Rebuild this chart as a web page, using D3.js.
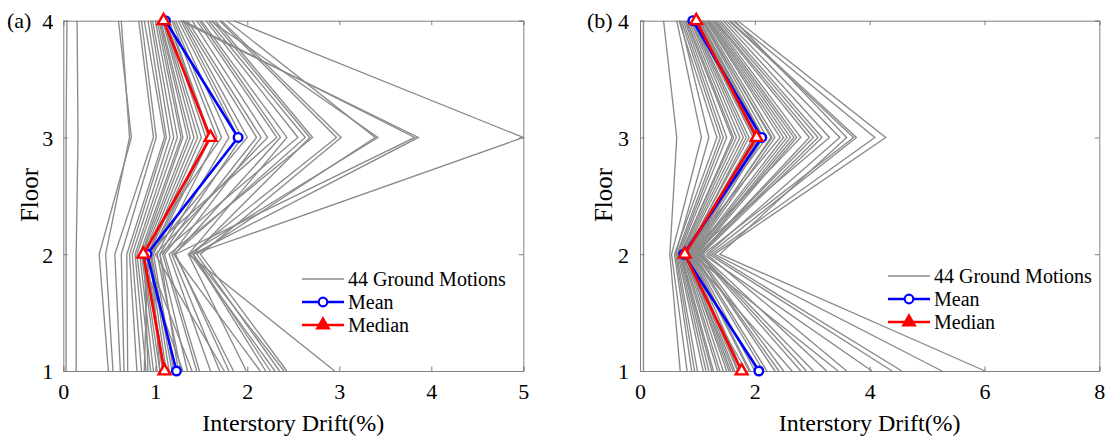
<!DOCTYPE html>
<html>
<head>
<meta charset="utf-8">
<script src="https://cdn.jsdelivr.net/npm/d3@7/dist/d3.min.js"></script>
<style>
  html, body { margin: 0; padding: 0; background: #fff; }
  svg { display: block; font-family: "Liberation Serif", "Times New Roman", Times, serif; }
</style>
</head>
<body>
<svg id="chart" width="1108" height="437"></svg>
<script>
// Floors on the vertical axis
const floors = [1, 2, 3, 4];
const floorTicks = [1, 2, 3, 4];

// (a) peak interstory drift (%) per ground motion, values for floors 1..4
const motionsA = [
  [0.03, 0.03, 0.03, 0.04],
  [0.14, 0.14, 0.16, 0.15],
  [0.49, 0.39, 0.74, 0.60],
  [0.54, 0.46, 0.72, 0.63],
  [0.62, 0.56, 0.98, 0.82],
  [0.66, 0.63, 1.01, 0.85],
  [0.70, 0.69, 1.10, 0.88],
  [0.80, 0.72, 1.12, 0.92],
  [0.85, 0.75, 1.16, 0.95],
  [0.90, 0.78, 1.20, 0.97],
  [0.95, 0.80, 1.24, 1.00],
  [0.98, 0.83, 1.28, 1.02],
  [1.02, 0.85, 1.30, 1.04],
  [1.05, 0.86, 1.35, 1.05],
  [1.08, 0.88, 1.38, 1.06],
  [1.10, 0.90, 1.42, 1.08],
  [0.88, 0.92, 1.46, 1.09],
  [1.12, 0.93, 1.50, 1.10],
  [1.15, 0.95, 1.55, 1.12],
  [1.18, 0.96, 1.58, 1.14],
  [1.20, 0.98, 1.60, 1.15],
  [1.28, 1.02, 1.67, 1.18],
  [1.30, 0.84, 1.72, 1.20],
  [1.35, 1.05, 1.80, 1.22],
  [1.40, 0.90, 1.90, 1.25],
  [1.45, 1.08, 1.94, 1.28],
  [1.05, 0.95, 2.00, 1.30],
  [1.48, 1.10, 2.10, 1.32],
  [1.70, 1.18, 2.15, 1.35],
  [1.75, 1.00, 2.22, 1.40],
  [0.92, 0.88, 2.32, 1.45],
  [1.85, 1.21, 2.36, 1.48],
  [1.99, 1.36, 2.43, 1.50],
  [1.25, 1.05, 2.55, 1.55],
  [2.14, 1.20, 2.63, 1.58],
  [2.20, 1.41, 2.68, 1.62],
  [1.60, 1.15, 2.71, 1.65],
  [2.30, 1.38, 2.97, 1.70],
  [2.43, 1.49, 3.02, 1.72],
  [2.35, 1.45, 3.39, 1.78],
  [2.95, 1.36, 3.42, 1.60],
  [1.80, 1.22, 3.82, 1.30],
  [2.25, 1.41, 3.86, 1.27],
  [2.40, 1.41, 5.00, 1.85]
];
const meanA = [1.23, 0.91, 1.90, 1.11];
const medianA = [1.10, 0.87, 1.60, 1.09];

// (b) peak interstory drift (%) per ground motion, values for floors 1..4
const motionsB = [
  [0.06, 0.06, 0.06, 0.06],
  [0.70, 0.52, 0.64, 0.41],
  [0.82, 0.55, 1.07, 0.64],
  [0.90, 0.60, 1.34, 0.68],
  [0.95, 0.62, 1.20, 0.70],
  [1.00, 0.64, 1.40, 0.72],
  [1.10, 0.66, 1.45, 0.75],
  [1.15, 0.68, 1.51, 0.78],
  [1.20, 0.70, 1.63, 0.82],
  [1.25, 0.71, 1.60, 0.80],
  [1.28, 0.72, 1.68, 0.85],
  [1.35, 0.74, 1.74, 0.88],
  [1.39, 0.76, 1.80, 0.90],
  [1.45, 0.78, 1.90, 0.93],
  [1.51, 0.80, 1.97, 0.95],
  [1.55, 0.79, 2.00, 0.96],
  [1.58, 0.82, 2.02, 0.98],
  [1.62, 0.81, 1.85, 0.92],
  [1.65, 0.84, 2.06, 1.00],
  [1.70, 0.83, 2.12, 1.04],
  [1.72, 0.86, 2.09, 1.02],
  [1.78, 0.88, 2.15, 1.05],
  [1.85, 0.70, 2.21, 1.08],
  [1.90, 0.87, 2.30, 1.08],
  [1.92, 0.90, 2.28, 1.10],
  [2.00, 0.92, 2.35, 1.12],
  [2.09, 0.76, 2.44, 1.15],
  [2.15, 0.93, 2.50, 1.16],
  [2.21, 0.95, 2.56, 1.18],
  [2.35, 0.98, 2.62, 1.20],
  [2.42, 0.97, 2.68, 1.22],
  [2.50, 1.00, 2.73, 1.25],
  [2.65, 0.85, 2.80, 1.28],
  [2.80, 1.02, 3.02, 1.32],
  [2.90, 1.04, 2.95, 1.30],
  [3.02, 1.05, 3.10, 1.36],
  [3.25, 1.07, 3.17, 1.40],
  [3.45, 0.90, 3.30, 1.45],
  [3.60, 1.16, 3.48, 1.50],
  [4.04, 1.10, 3.72, 1.55],
  [4.39, 1.20, 3.77, 1.57],
  [4.56, 1.25, 4.09, 1.62],
  [5.26, 1.30, 4.28, 1.70],
  [6.01, 1.39, 3.60, 1.65]
];
const meanB = [2.07, 0.76, 2.12, 0.92];
const medianB = [1.77, 0.78, 2.03, 0.98];

const ticksA = [0, 1, 2, 3, 4, 5];
const ticksB = [0, 2, 4, 6, 8];

const legendLabels = ["44 Ground Motions", "Mean", "Median"];

const svg = d3.select("#chart");
const GRAY = "#8a8a8a", BLUE = "#0000ff", RED = "#ff0000", AXIS = "#808080";
const SERIF = "'Liberation Serif', 'Times New Roman', Times, serif";

function panel(cfg) {
  const x = d3.scaleLinear().domain(cfg.xDomain).range([cfg.left, cfg.right]);
  const y = d3.scaleLinear().domain([1, 4]).range([371, 20.7]);
  const g = svg.append("g").style("font-family", SERIF);

  const line = d3.line()
    .x(d => x(d[0]))
    .y(d => y(d[1]));
  const pts = vals => vals.map((v, i) => [v, floors[i]]);

  // individual ground motion responses
  g.append("g").selectAll("path")
    .data(cfg.motions)
    .join("path")
    .attr("d", d => line(pts(d)))
    .attr("fill", "none")
    .attr("stroke", GRAY)
    .attr("stroke-width", 1.35);

  // axes (box with inward ticks on all sides)
  const tl = 4.5;
  const xb = d3.axisBottom(x).tickValues(cfg.ticks).tickSize(-tl).tickPadding(12).tickFormat(d3.format("d"));
  const xt = d3.axisTop(x).tickValues(cfg.ticks).tickSize(-tl).tickFormat("");
  const yl = d3.axisLeft(y).tickValues(floorTicks).tickSize(-tl).tickPadding(cfg.yPad).tickFormat(d3.format("d"));
  const yr = d3.axisRight(y).tickValues(floorTicks).tickSize(-tl).tickFormat("");

  const ax = [
    g.append("g").attr("transform", `translate(0,${y(1)})`).call(xb),
    g.append("g").attr("transform", `translate(0,${y(4)})`).call(xt),
    g.append("g").attr("transform", `translate(${x(cfg.xDomain[0])},0)`).call(yl),
    g.append("g").attr("transform", `translate(${x(cfg.xDomain[1])},0)`).call(yr)
  ];
  ax.forEach(a => {
    a.attr("font-family", null);
    a.select(".domain").attr("stroke", AXIS).attr("stroke-width", 1);
    a.selectAll(".tick line").attr("stroke", AXIS).attr("stroke-width", 1);
    a.selectAll(".tick text").attr("fill", "#000")
      .style("font-family", SERIF).style("font-size", "22px");
  });
  ax[2].selectAll(".tick text").attr("dy", "0.36em");

  // mean and median profiles
  const drawStat = (vals, color, shape) => {
    g.append("path")
      .attr("d", line(pts(vals)))
      .attr("fill", "none")
      .attr("stroke", color)
      .attr("stroke-width", 2.6);
    g.append("g").selectAll("path")
      .data(pts(vals))
      .join("path")
      .attr("transform", d => `translate(${x(d[0])},${y(d[1])})`)
      .attr("d", shape)
      .attr("fill", "#fff")
      .attr("stroke", color)
      .attr("stroke-width", 2.4);
  };
  const circle = d3.symbol(d3.symbolCircle, 58)();
  const tri = d3.symbol(d3.symbolTriangle, 60)();
  drawStat(cfg.mean, BLUE, circle);
  drawStat(cfg.median, RED, tri);

  // labels
  g.append("text")
    .attr("x", (cfg.left + cfg.right) / 2).attr("y", 431)
    .attr("text-anchor", "middle")
    .style("font-size", "24px")
    .text("Interstory Drift(%)");
  g.append("text")
    .attr("transform", `translate(${cfg.floorX},195) rotate(-90)`)
    .attr("text-anchor", "middle")
    .style("font-size", "25px")
    .text("Floor");
  g.append("text")
    .attr("x", cfg.tagX).attr("y", 28)
    .style("font-size", "22px")
    .text(cfg.tag);

  // legend
  const lg = g.append("g");
  const rows = [
    { color: GRAY, w: 1.35, shape: null },
    { color: BLUE, w: 2.6, shape: circle },
    { color: RED, w: 2.6, shape: tri }
  ];
  rows.forEach((r, i) => {
    const yy = cfg.legY[i];
    lg.append("line")
      .attr("x1", cfg.legX).attr("x2", cfg.legX + 42)
      .attr("y1", yy).attr("y2", yy)
      .attr("stroke", r.color).attr("stroke-width", r.w);
    if (r.shape) {
      lg.append("path")
        .attr("transform", `translate(${cfg.legX + 21},${yy})`)
        .attr("d", r.shape)
        .attr("fill", i === 2 ? r.color : "#fff")
        .attr("stroke", r.color).attr("stroke-width", 2.2);
    }
    lg.append("text")
      .attr("x", cfg.legX + 46).attr("y", yy + 7)
      .style("font-size", "20px")
      .text(legendLabels[i]);
  });
}

panel({
  tag: "(a)", tagX: 7, floorX: 38, yPad: 10,
  left: 63.3, right: 523.3, xDomain: [0, 5], ticks: ticksA,
  motions: motionsA, mean: meanA, median: medianA,
  legX: 302, legY: [279, 302, 325]
});
panel({
  tag: "(b)", tagX: 587, floorX: 612, yPad: 11,
  left: 640, right: 1099.3, xDomain: [0, 8], ticks: ticksB,
  motions: motionsB, mean: meanB, median: medianB,
  legX: 888, legY: [276, 299, 322]
});
</script>
</body>
</html>
